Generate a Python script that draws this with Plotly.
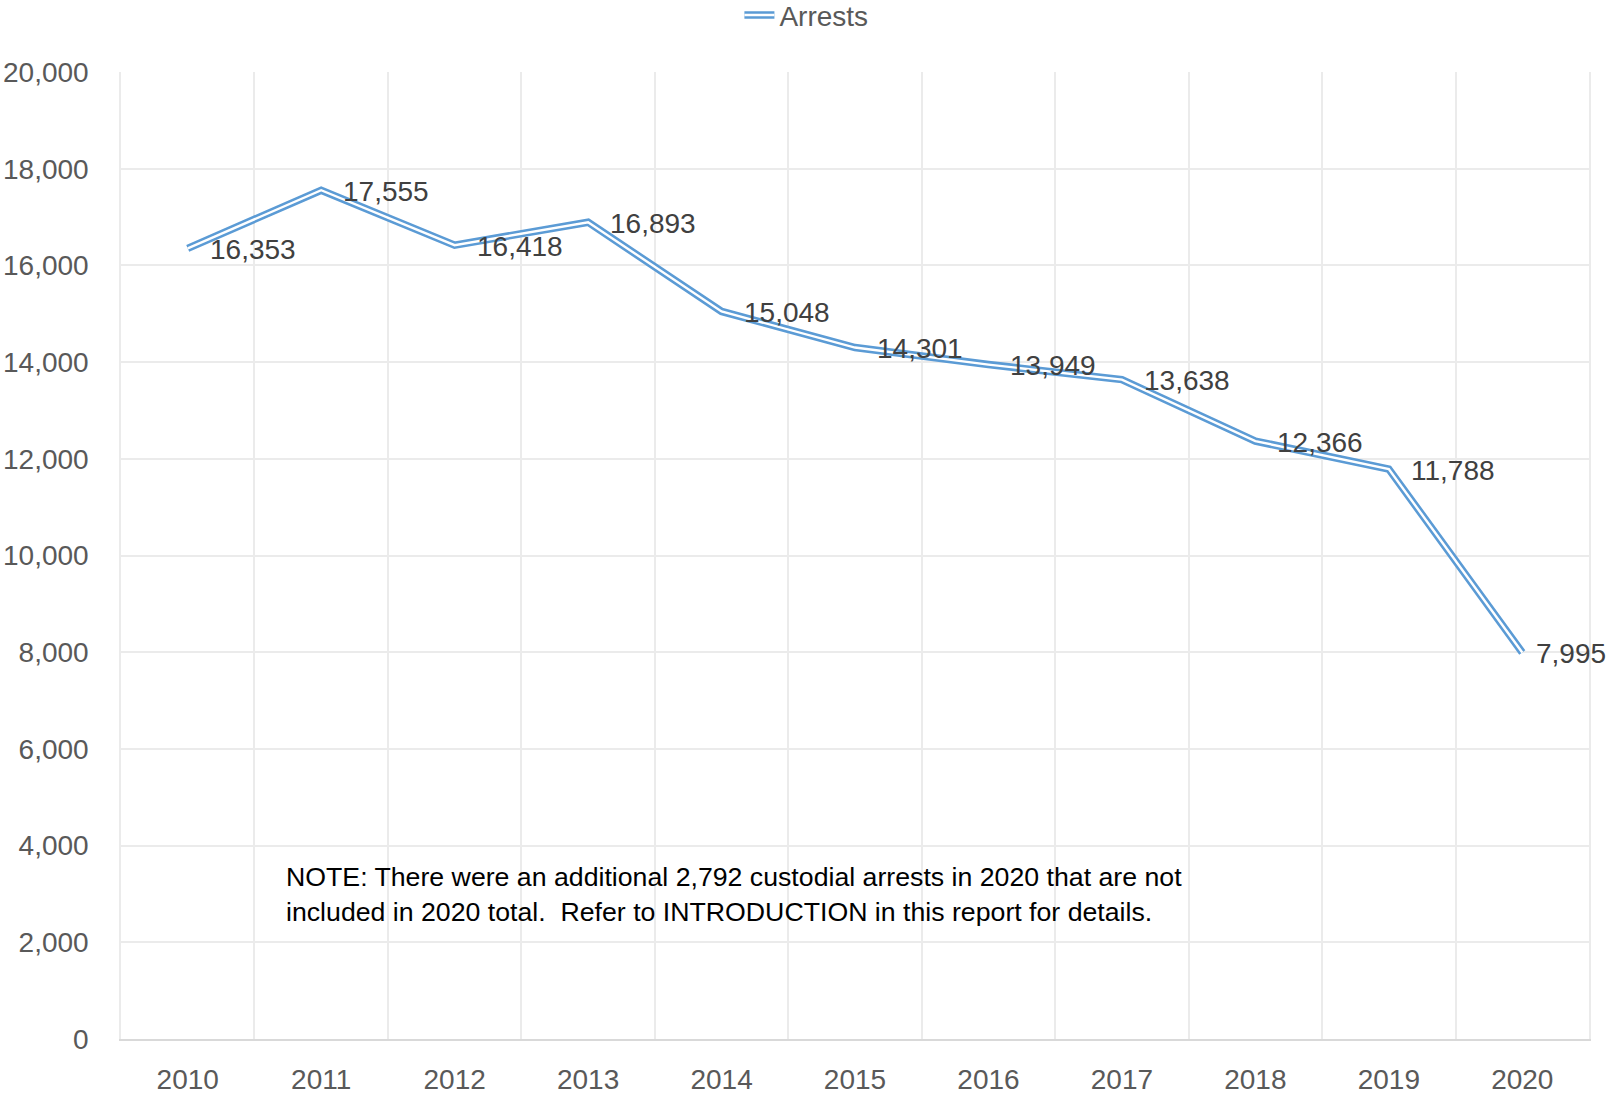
import plotly.graph_objects as go

years = ["2010", "2011", "2012", "2013", "2014", "2015", "2016", "2017", "2018", "2019", "2020"]
arrests = [16353, 17555, 16418, 16893, 15048, 14301, 13949, 13638, 12366, 11788, 7995]
labels = ["16,353", "17,555", "16,418", "16,893", "15,048", "14,301", "13,949", "13,638", "12,366", "11,788", "7,995"]
yticks = [0, 2000, 4000, 6000, 8000, 10000, 12000, 14000, 16000, 18000, 20000]
note = ("NOTE: There were an additional 2,792 custodial arrests in 2020 that are not<br>"
        "included in 2020 total.  Refer to INTRODUCTION in this report for details.")

blue = "#5B9BD5"
font = "Liberation Sans"

fig = go.Figure()
# outer blue line
fig.add_trace(go.Scatter(x=years, y=arrests, mode="lines", name="Arrests",
                         line=dict(color=blue, width=7.5), hoverinfo="skip",
                         legend="legend", showlegend=True))
# white core for the double-line look (its legend sits on top of the first one)
fig.add_trace(go.Scatter(x=years, y=arrests, mode="lines", name="Arrests",
                         line=dict(color="white", width=2.4), hoverinfo="skip",
                         legend="legend2", showlegend=True))

# data labels to the right of each point (x given as category index)
last = len(years) - 1
for i, (v, lab) in enumerate(zip(arrests, labels)):
    fig.add_annotation(x=i, y=v, text=lab, showarrow=False, xanchor="left",
                       yanchor="middle", xshift=12 if i == last else 20, yshift=-1,
                       font=dict(family=font, size=28, color="#404040"))

fig.add_annotation(text=note, xref="paper", yref="y", x=0.111, y=2980,
                   xanchor="left", yanchor="middle", align="left", showarrow=False,
                   font=dict(family=font, size=26.7, color="#000000"))

leg = dict(orientation="h", xref="container", x=0.5015, xanchor="center",
           yref="container", y=0.986, yanchor="middle", bgcolor="rgba(0,0,0,0)",
           visible=True)
fig.update_layout(
    width=1608, height=1096,
    margin=dict(l=121, r=19, t=72, b=57, autoexpand=False),
    paper_bgcolor="white", plot_bgcolor="white",
    showlegend=True,
    font=dict(family=font, size=28, color="#595959"),
    legend=dict(**leg, font=dict(family=font, size=28, color="#595959")),
    legend2=dict(**leg, font=dict(family=font, size=28, color="rgba(0,0,0,0)")),
)
fig.update_xaxes(type="category", range=[-0.5, 10.5], tickson="boundaries",
                 showgrid=True, gridcolor="#EBEBEB", gridwidth=1.5,
                 showline=True, linecolor="#D9D9D9", linewidth=1.5,
                 ticks="", ticklabelstandoff=15, automargin=False)
fig.update_yaxes(range=[0, 20000], tickvals=yticks, tickformat=",",
                 showgrid=True, gridcolor="#EBEBEB", gridwidth=1.5,
                 zeroline=False, showline=True, mirror=True,
                 linecolor="#EBEBEB", linewidth=1.5,
                 ticks="", ticklabelstandoff=25, automargin=False)

# drop the page's default body margin so the figure sits at the window corner
fig.write_html("out.html", config={"displayModeBar": False},
               post_script="document.body.style.margin = '0';")
